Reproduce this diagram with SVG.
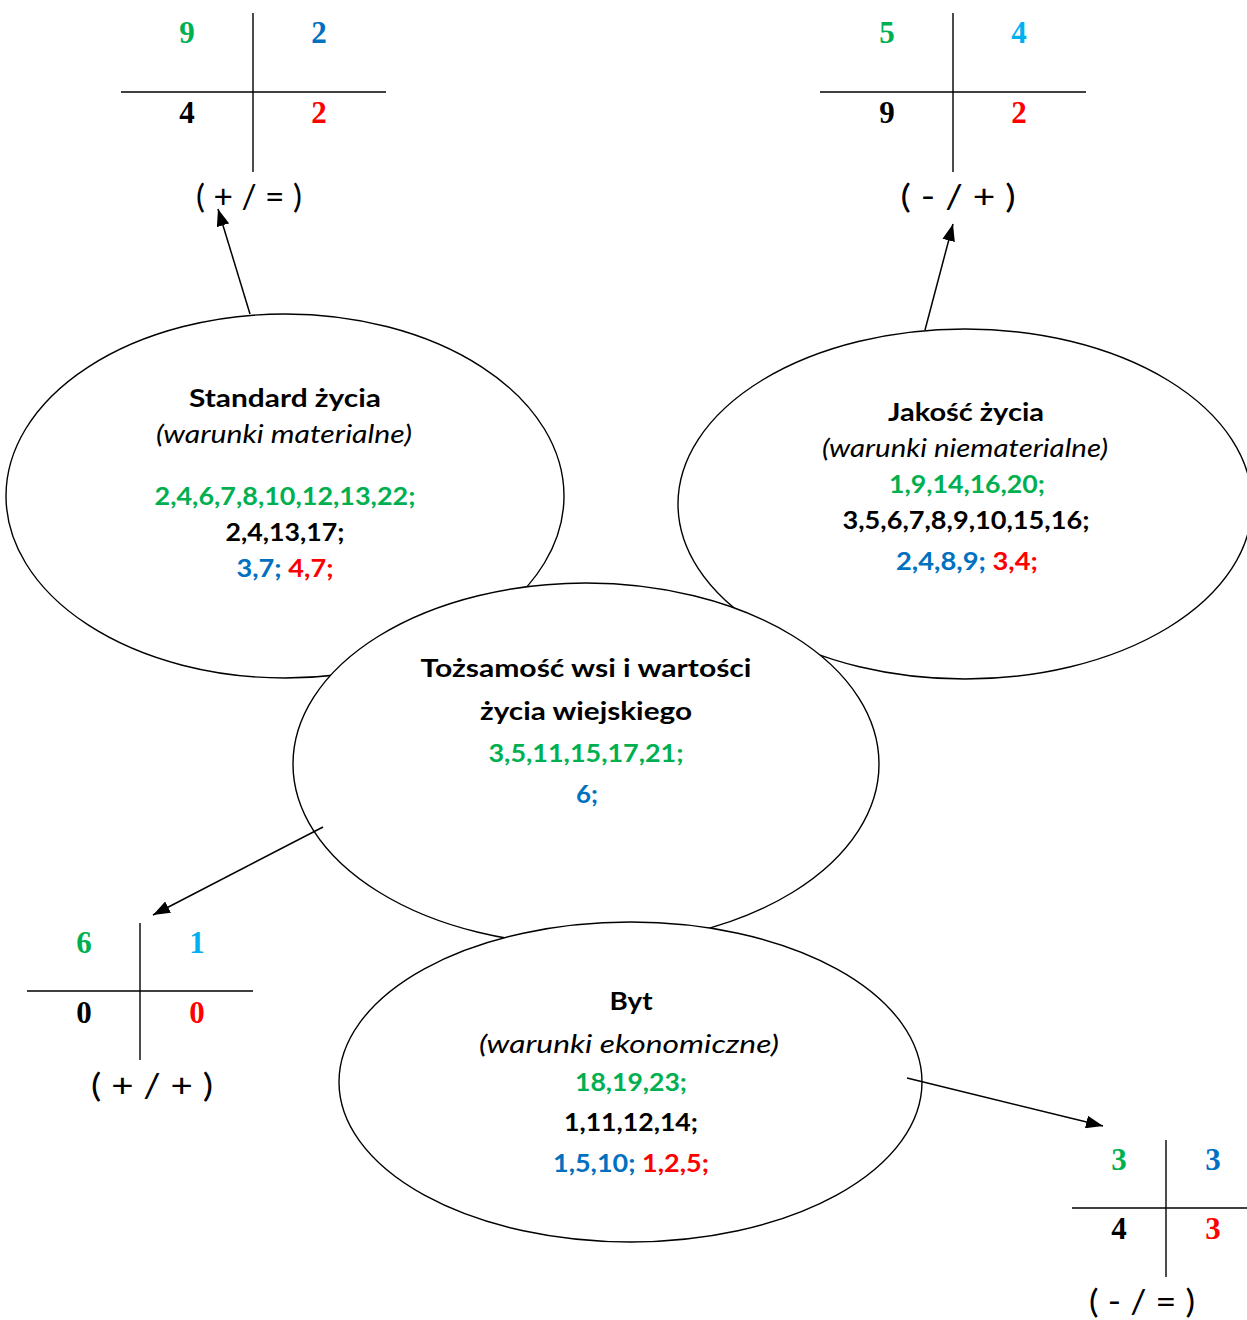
<svg xmlns="http://www.w3.org/2000/svg" width="1247" height="1320" viewBox="0 0 1247 1320">
<style>
.ell{fill:#fff;stroke:#000;stroke-width:1.4}
.t{font-family:Lato,"Open Sans","Liberation Sans",sans-serif;font-size:25px;font-weight:bold;text-anchor:middle;fill:#000}
.i{font-family:Lato,"Open Sans","Liberation Sans",sans-serif;font-size:25px;font-style:italic;text-anchor:middle;fill:#000}
.d{font-family:"Liberation Serif","Times New Roman",serif;font-size:31px;font-weight:bold;text-anchor:middle}
.b{font-family:Lato,"Open Sans","Liberation Sans",sans-serif;font-size:33px;text-anchor:middle;fill:#000}
.ln{stroke:#000;stroke-width:1.4;fill:none}
.g{fill:#00B050}.bl{fill:#0070C0}.r{fill:#FF0000}.c{fill:#00B0F0}.k{fill:#000}
.con{stroke:#000;stroke-width:1.5;fill:none;marker-end:url(#ah)}
</style>
<defs>
<marker id="ah" viewBox="0 0 16 12" refX="16" refY="6" markerWidth="17" markerHeight="13" orient="auto" markerUnits="userSpaceOnUse">
<path d="M0,0 L16,6 L0,12 z" fill="#000"/>
</marker>
</defs>
<rect width="1247" height="1320" fill="#fff"/>

<g id="table-standard">
<line class="ln" x1="253" y1="13" x2="253" y2="172"/>
<line class="ln" x1="121" y1="92" x2="386" y2="92"/>
<text class="d g" x="187" y="43">9</text>
<text class="d bl" x="319" y="43">2</text>
<text class="d k" x="187" y="123">4</text>
<text class="d r" x="319" y="123">2</text>
<text class="b" x="249" y="208" textLength="106" lengthAdjust="spacingAndGlyphs">( + / = )</text>
</g>

<g id="table-jakosc">
<line class="ln" x1="953" y1="13" x2="953" y2="172"/>
<line class="ln" x1="820" y1="92" x2="1086" y2="92"/>
<text class="d g" x="887" y="43">5</text>
<text class="d c" x="1019" y="43">4</text>
<text class="d k" x="887" y="123">9</text>
<text class="d r" x="1019" y="123">2</text>
<text class="b" x="958" y="208" textLength="115" lengthAdjust="spacingAndGlyphs">( -  /  + )</text>
</g>

<g id="table-tozsamosc">
<line class="ln" x1="140" y1="923" x2="140" y2="1060"/>
<line class="ln" x1="27" y1="991" x2="253" y2="991"/>
<text class="d g" x="84" y="953">6</text>
<text class="d c" x="197" y="953">1</text>
<text class="d k" x="84" y="1023">0</text>
<text class="d r" x="197" y="1023">0</text>
<text class="b" x="152" y="1097" textLength="122" lengthAdjust="spacingAndGlyphs">( +  / +  )</text>
</g>

<g id="table-byt">
<line class="ln" x1="1166" y1="1140" x2="1166" y2="1277"/>
<line class="ln" x1="1072" y1="1208" x2="1247" y2="1208"/>
<text class="d g" x="1119" y="1170">3</text>
<text class="d bl" x="1213" y="1170">3</text>
<text class="d k" x="1119" y="1239">4</text>
<text class="d r" x="1213" y="1239">3</text>
<text class="b" x="1142" y="1313" textLength="106" lengthAdjust="spacingAndGlyphs">(  - / = )</text>
</g>

<g id="node-standard">
<ellipse class="ell" cx="285" cy="496" rx="279" ry="182"/>
<text class="t" x="285" y="407" textLength="192" lengthAdjust="spacingAndGlyphs">Standard życia</text>
<text class="i" x="284" y="443" textLength="256" lengthAdjust="spacingAndGlyphs">(warunki  materialne)</text>
<text class="t g" x="285" y="505" textLength="261" lengthAdjust="spacingAndGlyphs">2,4,6,7,8,10,12,13,22;</text>
<text class="t" x="285" y="541" textLength="119" lengthAdjust="spacingAndGlyphs">2,4,13,17;</text>
<text class="t" x="285" y="577" textLength="97" lengthAdjust="spacingAndGlyphs"><tspan class="bl">3,7;</tspan> <tspan class="r">4,7;</tspan></text>
</g>

<g id="node-jakosc">
<ellipse class="ell" cx="965" cy="504" rx="287" ry="175"/>
<text class="t" x="966" y="421" textLength="156" lengthAdjust="spacingAndGlyphs">Jakość życia</text>
<text class="i" x="965" y="457" textLength="286" lengthAdjust="spacingAndGlyphs">(warunki niematerialne)</text>
<text class="t g" x="967" y="493" textLength="156" lengthAdjust="spacingAndGlyphs">1,9,14,16,20;</text>
<text class="t" x="966" y="529" textLength="247" lengthAdjust="spacingAndGlyphs">3,5,6,7,8,9,10,15,16;</text>
<text class="t" x="967" y="570" textLength="142" lengthAdjust="spacingAndGlyphs"><tspan class="bl">2,4,8,9;</tspan> <tspan class="r">3,4;</tspan></text>
</g>

<g id="node-tozsamosc">
<ellipse class="ell" cx="586" cy="764" rx="293" ry="181"/>
<text class="t" x="586" y="677" textLength="331" lengthAdjust="spacingAndGlyphs">Tożsamość wsi i wartości</text>
<text class="t" x="586" y="720" textLength="212" lengthAdjust="spacingAndGlyphs">życia wiejskiego</text>
<text class="t g" x="586" y="762" textLength="195" lengthAdjust="spacingAndGlyphs">3,5,11,15,17,21;</text>
<text class="t bl" x="587" y="803" textLength="22" lengthAdjust="spacingAndGlyphs">6;</text>
</g>

<g id="node-byt">
<ellipse class="ell" cx="630.5" cy="1082" rx="291.5" ry="160"/>
<text class="t" x="631" y="1010" textLength="43" lengthAdjust="spacingAndGlyphs">Byt</text>
<text class="i" x="629" y="1053" textLength="300" lengthAdjust="spacingAndGlyphs">(warunki ekonomiczne)</text>
<text class="t g" x="631" y="1091" textLength="112" lengthAdjust="spacingAndGlyphs">18,19,23;</text>
<text class="t" x="631" y="1131" textLength="134" lengthAdjust="spacingAndGlyphs">1,11,12,14;</text>
<text class="t" x="631" y="1172" textLength="156" lengthAdjust="spacingAndGlyphs"><tspan class="bl">1,5,10;</tspan> <tspan class="r">1,2,5;</tspan></text>
</g>

<g id="connectors">
<line class="con" x1="250" y1="314" x2="218" y2="209"/>
<line class="con" x1="925" y1="330" x2="953" y2="224"/>
<line class="con" x1="323" y1="827" x2="153" y2="915"/>
<line class="con" x1="907" y1="1078" x2="1103" y2="1126"/>
</g>
</svg>
